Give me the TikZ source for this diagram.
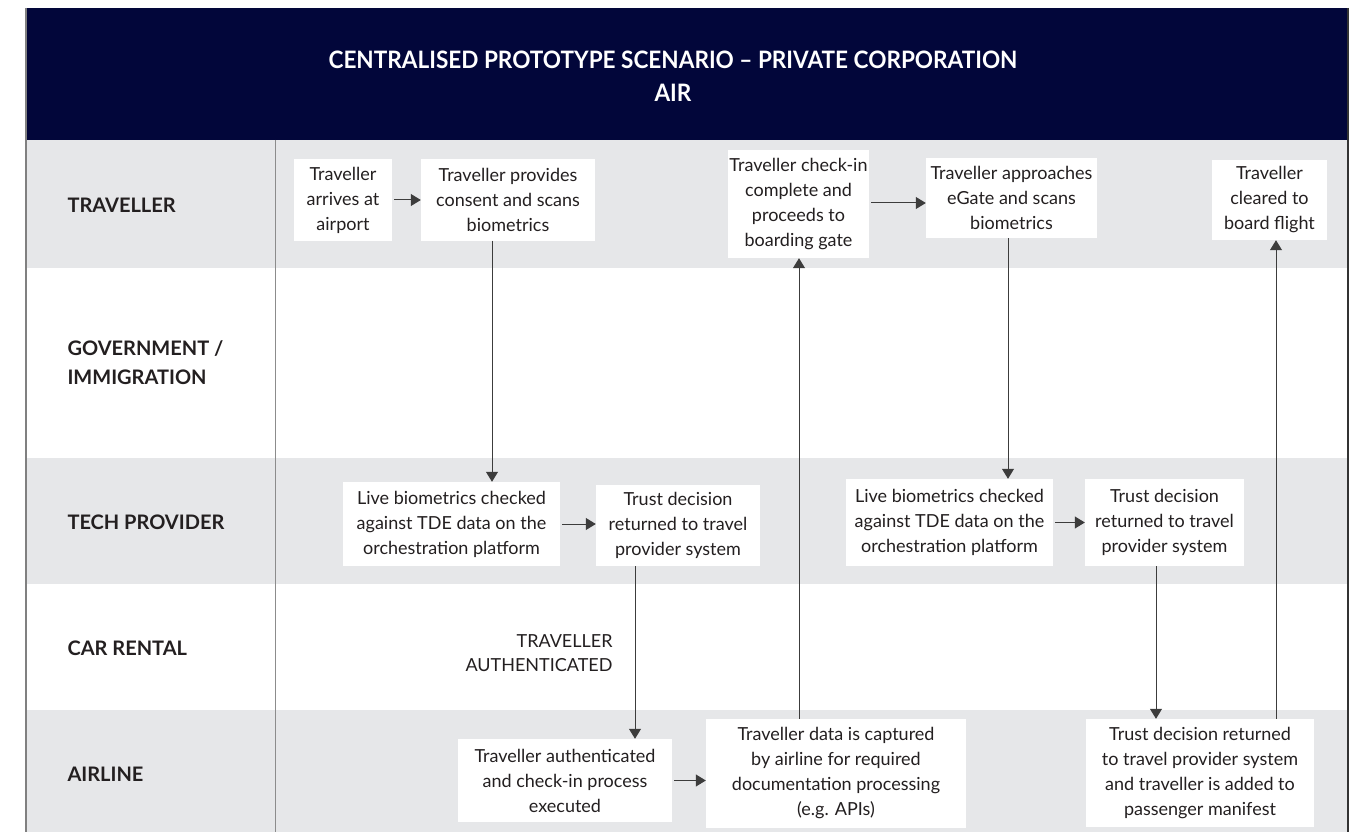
\documentclass[tikz,border=0pt]{standalone}
\usepackage{fontspec}
\setmainfont{Lato}
\newfontfamily\titlefont[FakeStretch=0.94,Ligatures=TeX]{Lato Bold}
\usetikzlibrary{arrows.meta,calc}
\definecolor{navy}{RGB}{2,6,58}
\definecolor{lane}{RGB}{230,231,233}
\definecolor{ink}{RGB}{35,31,32}
\definecolor{linec}{RGB}{60,60,60}
\tikzset{
  box/.style={fill=white,inner sep=0pt,align=center,text=ink,
    font=\fontsize{18}{25}\selectfont},
  lanelabel/.style={anchor=west,align=left,text=ink,
    font=\bfseries\fontsize{20}{29}\selectfont},
  arr/.style={draw=linec,line width=1pt,-{Triangle[width=12pt,length=10pt]}},
}
\begin{document}
\begin{tikzpicture}[x=1pt,y=-1pt]
\useasboundingbox (0,0) rectangle (1361,832);
% lanes
\fill[lane] (26,140) rectangle (1348,268);
\fill[lane] (26,458) rectangle (1348,584);
\fill[lane] (26,710) rectangle (1348,832);
% header
\fill[navy] (26,8) rectangle (1348,140);
\node[text=white,align=center,font=\titlefont\fontsize{24}{33}\selectfont] (title) at (673,76)
  {CENTRALISED PROTOTYPE SCENARIO – PRIVATE CORPORATION\\AIR};
% frame lines
\draw[gray,line width=1.2pt] (26,8) -- (26,832);
\draw[black!80,line width=1.4pt] (1348,8) -- (1348,832);
\draw[gray!90,line width=1pt] (275,140) -- (275,832);
% lane labels
\node[lanelabel] (lt) at (64,205) {TRAVELLER};
\node[lanelabel] (lg) at (64,363) {GOVERNMENT /\\IMMIGRATION};
\node[lanelabel] (lp) at (64,522) {TECH PROVIDER};
\node[lanelabel] (lc) at (64,648) {CAR RENTAL};
\node[lanelabel] (la) at (64,774) {AIRLINE};
% boxes
\node[box,minimum width=98pt,minimum height=81pt] (b1) at (343,200) {Traveller\\arrives at\\airport};
\node[box,minimum width=174pt,minimum height=81pt] (b2) at (508,200) {Traveller provides\\consent and scans\\biometrics};
\node[box,minimum width=141pt,minimum height=108pt] (b3) at (798.5,204) {Traveller check-in\\complete and\\proceeds to\\boarding gate};
\node[box,minimum width=171pt,minimum height=80pt] (b4) at (1011.5,198) {Traveller approaches\\eGate and scans\\biometrics};
\node[box,minimum width=115pt,minimum height=80pt] (b5) at (1269.5,200) {Traveller\\cleared to\\board flight};
\node[box,minimum width=217pt,minimum height=84pt] (b6) at (451.5,524) {Live biometrics checked\\against TDE data on the\\orchestration platform};
\node[box,minimum width=164pt,minimum height=81pt] (b7) at (678,525.5) {Trust decision\\returned to travel\\provider system};
\node[box,minimum width=207pt,minimum height=87pt] (b8) at (949.5,522.5) {Live biometrics checked\\against TDE data on the\\orchestration platform};
\node[box,minimum width=159pt,minimum height=87pt] (b9) at (1164.5,522.5) {Trust decision\\returned to travel\\provider system};
\node[box,minimum width=214pt,minimum height=83pt] (b10) at (565,780.5) {Traveller authenticated\\and check-in process\\executed};
\node[box,minimum width=260pt,minimum height=109pt] (b11) at (836,773.5) {Traveller data is captured\\by airline for required\\documentation processing\\(e.g. APIs)};
\node[box,minimum width=228pt,minimum height=108pt] (b12) at (1200,773) {Trust decision returned\\to travel provider system\\and traveller is added to\\passenger manifest};
\node[anchor=east,align=right,text=ink,font=\fontsize{18}{24}\selectfont] (auth) at (616,653) {TRAVELLER\\AUTHENTICATED};
% vertical guide coordinates
\coordinate (v1) at (492,0);
\coordinate (v2) at (635,0);
\coordinate (v3) at (799,0);
\coordinate (v4) at (1008,0);
\coordinate (v5) at (1156,0);
\coordinate (v6) at (1276,0);
% arrows
\draw[arr] ($(b1.east)+(2,0)$) -- (b2.west);
\draw[arr] (b2.south -| v1) -- (b6.north -| v1);
\draw[arr] ($(b6.east)+(2,0)$) -- (b7.west |- b6.east);
\draw[arr] (b7.south -| v2) -- (b10.north -| v2);
\draw[arr] ($(b10.east)+(2,0)$) -- (b11.west |- b10.east);
\draw[arr] (b11.north -| v3) -- (b3.south -| v3);
\draw[arr] ($(b3.east)+(2,-1)$) -- ($(b4.west |- b3.east)+(0,-1)$);
\draw[arr] (b4.south -| v4) -- (b8.north -| v4);
\draw[arr] ($(b8.east)+(2,0)$) -- (b9.west);
\draw[arr] (b9.south -| v5) -- (b12.north -| v5);
\draw[arr] (b12.north -| v6) -- (b5.south -| v6);
\end{tikzpicture}
\end{document}
